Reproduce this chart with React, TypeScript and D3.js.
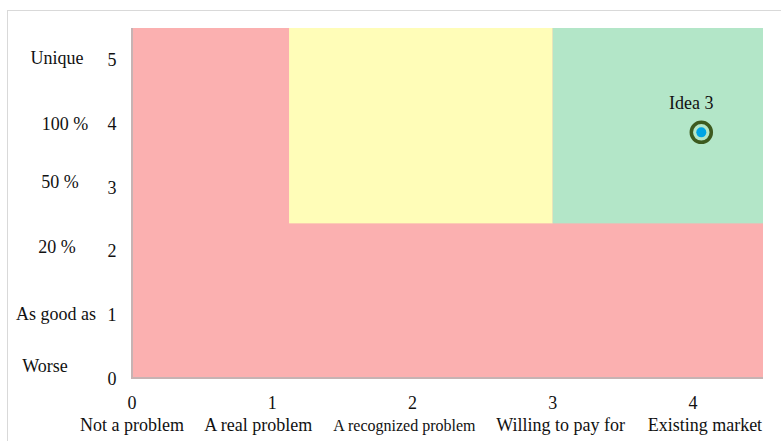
import React from "react";
import * as d3 from "d3";

// Problem maturity (x) vs. solution advantage (y)
const xTicks = [0, 1, 2, 3, 4];
const xCategories = [
  "Not a problem",
  "A real problem",
  "A recognized problem",
  "Willing to pay for",
  "Existing market",
];
const yTicks = [0, 1, 2, 3, 4, 5];
const yCategories = ["Worse", "As good as", "20 %", "50 %", "100 %", "Unique"];

// Zones: [x0, x1, y0, y1]
const zoneNames = ["reject", "promising", "target"];
const zoneBounds: [number, number, number, number][] = [
  [0, 4.5, 0, 5.5],
  [1.12, 3, 2.43, 5.5],
  [3, 4.5, 2.43, 5.5],
];

// Plotted ideas
const ideaNames = ["Idea 3"];
const ideaX = [4.06];
const ideaY = [3.86];

const W = 781;
const H = 441;
const FONT = "'Liberation Serif', 'Times New Roman', serif";

const zoneColors: Record<string, string> = {
  reject: "#fbb0b0",
  promising: "#fffdb8",
  target: "#b3e6c8",
};

// Per-label nudges for the category text
const yCatX = [45, 56, 57, 60, 65, 57];
const yCatDy = [-6, 5.6, 2, 1, 7, 4];
const xCatDx = [0, -14, -8, 8, 12];
const xCatSize = [18, 18, 16, 18, 18];

export default function App() {
  const x = d3.scaleLinear().domain([0, 4.5]).range([132, 763]);
  const y = d3.scaleLinear().domain([0, 5.5]).range([378, 28]);

  return (
    <svg
      width={W}
      height={H}
      style={{ position: "absolute", left: 0, top: 0, background: "#fff" }}
      fontFamily={FONT}
    >
      <rect x={7.5} y={10.5} width={W + 20} height={H + 20} fill="#fff" stroke="#d9d9d9" strokeWidth={1} />

      {zoneNames.map((n, i) => {
        const [x0, x1, y0, y1] = zoneBounds[i];
        return (
          <rect
            key={n}
            x={x(x0)}
            y={y(y1)}
            width={x(x1) - x(x0)}
            height={y(y0) - y(y1)}
            fill={zoneColors[n]}
          />
        );
      })}

      <line x1={x(0)} x2={x(0)} y1={y(5.5)} y2={y(0) + 1} stroke="#c6b3b3" strokeWidth={2} />
      <line x1={x(0)} x2={x(4.5)} y1={y(0)} y2={y(0)} stroke="#c6b3b3" strokeWidth={2} />

      {yTicks.map((t, i) => (
        <g key={t}>
          <text x={112} y={y(t) + 6.5} textAnchor="middle" fontSize={18} fill="#111">
            {t}
          </text>
          <text x={yCatX[i]} y={y(t) + yCatDy[i]} textAnchor="middle" fontSize={18} fill="#111">
            {yCategories[i]}
          </text>
        </g>
      ))}

      {xTicks.map((t, i) => (
        <g key={t}>
          <text x={x(t)} y={409} textAnchor="middle" fontSize={18} fill="#111">
            {t}
          </text>
          <text x={x(t) + xCatDx[i]} y={431} textAnchor="middle" fontSize={xCatSize[i]} fill="#111">
            {xCategories[i]}
          </text>
        </g>
      ))}

      {ideaNames.map((n, i) => (
        <g key={n}>
          <text x={x(ideaX[i]) - 10} y={y(ideaY[i]) - 23} textAnchor="middle" fontSize={18} fill="#111">
            {n}
          </text>
          <circle cx={x(ideaX[i])} cy={y(ideaY[i])} r={10} fill="none" stroke="#3d5a1f" strokeWidth={3.5} />
          <circle cx={x(ideaX[i])} cy={y(ideaY[i])} r={5} fill="#00a4e4" />
        </g>
      ))}
    </svg>
  );
}
